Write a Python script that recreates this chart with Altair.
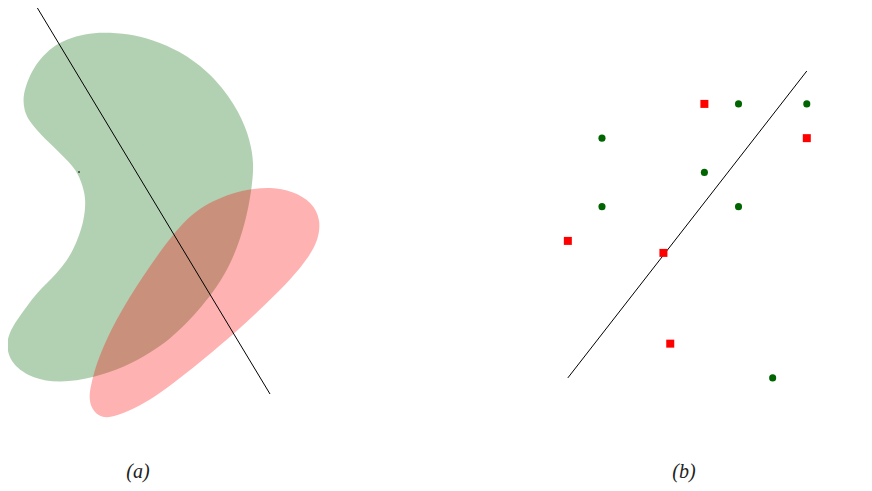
import altair as alt
import pandas as pd

# ---- left panel (a): outlines of the two regions, in page-pixel units ----
green_x = [103, 130, 150, 183, 217, 240, 250, 254, 252, 247, 240, 230, 217, 202, 187, 170, 150, 125, 93, 60, 33, 12, 6, 9, 17, 27, 37, 47, 57, 66, 73, 79, 84, 86, 83, 77, 60, 40, 29, 24, 23, 26, 32, 40, 52, 67, 85]
green_y = [32, 34, 39, 52, 79, 113, 140, 163, 187, 215, 240, 265, 287, 306, 323, 339, 353, 367, 378, 383, 379, 365, 347, 333, 320, 306, 293, 283, 273, 262, 250, 236, 220, 200, 187, 170, 153, 134, 121, 110, 97, 85, 71, 59, 47, 39, 34]

red_x = [252, 270, 293, 312, 321, 318, 308, 293, 265, 235, 205, 180, 160, 140, 117, 102, 91, 89, 91, 95, 101, 111, 123, 136, 150, 165, 180, 196, 213, 232]
red_y = [189, 187, 191, 202, 220, 241, 258, 277, 305, 333, 358, 378, 393, 406, 416, 419, 409, 396, 385, 369, 352, 330, 308, 287, 266, 245, 226, 211, 201, 193]

sep_a_x = [35, 270]
sep_a_y = [4, 394]

# ---- right panel (b): grid points ----
pt_x = [4, 5, 7, 1, 7, 4, 1, 5, 0, 2.8, 3.0, 6]
pt_y = [8, 8, 8, 7, 7, 6, 5, 5, 4, 3.65, 1, 0]
pt_cls = ["neg", "pos", "pos", "pos", "neg", "pos", "pos", "pos", "neg", "neg", "neg", "pos"]

sep_b_x = [0, 7]
sep_b_y = [0, 8.96]

labels = ["(a)", "(b)"]
label_x = [138, 684]
label_y = [472, 472]

W, H = 850, 475
xs_a = alt.Scale(domain=[8, 8 + W])
ys_a = alt.Scale(domain=[8 + H, 8])
xs_b = alt.Scale(domain=[-16.40, 8.50])
ys_b = alt.Scale(domain=[10.80 - H / 34.25, 10.80])

noax = None

green_df = pd.DataFrame({"x": green_x, "y": green_y, "i": range(len(green_x))})
red_df = pd.DataFrame({"x": red_x, "y": red_y, "i": range(len(red_x))})
sepa_df = pd.DataFrame({"x": sep_a_x, "y": sep_a_y, "i": [0, 1]})
lab_df = pd.DataFrame({"t": labels, "x": label_x, "y": label_y})
tick_df = pd.DataFrame({"x": [78], "x2": [80], "y": [172]})

def blob(df, color):
    return alt.Chart(df).mark_line(
        interpolate="basis-closed", filled=True, fill=color, fillOpacity=0.3,
        strokeWidth=0
    ).encode(
        x=alt.X("x:Q", scale=xs_a, axis=noax),
        y=alt.Y("y:Q", scale=ys_a, axis=noax),
        order=alt.Order("i:Q"),
    )

green = blob(green_df, "#006400")
red = blob(red_df, "#ff0000")

sep_a = alt.Chart(sepa_df).mark_line(color="black", strokeWidth=1).encode(
    x=alt.X("x:Q", scale=xs_a, axis=noax),
    y=alt.Y("y:Q", scale=ys_a, axis=noax),
    order=alt.Order("i:Q"),
)

tick = alt.Chart(tick_df).mark_rule(color="black", strokeWidth=1).encode(
    x=alt.X("x:Q", scale=xs_a, axis=noax), x2="x2:Q",
    y=alt.Y("y:Q", scale=ys_a, axis=noax),
)

text = alt.Chart(lab_df).mark_text(
    font="Liberation Serif", fontStyle="italic", fontSize=20, color="#222222", baseline="middle"
).encode(
    x=alt.X("x:Q", scale=xs_a, axis=noax),
    y=alt.Y("y:Q", scale=ys_a, axis=noax),
    text="t:N",
)

left = alt.layer(green, red, sep_a, tick, text)

pts_df = pd.DataFrame({"x": pt_x, "y": pt_y, "c": pt_cls})
sepb_df = pd.DataFrame({"x": sep_b_x, "y": sep_b_y, "i": [0, 1]})

sep_b = alt.Chart(sepb_df).mark_line(color="black", strokeWidth=1).encode(
    x=alt.X("x:Q", scale=xs_b, axis=noax),
    y=alt.Y("y:Q", scale=ys_b, axis=noax),
    order=alt.Order("i:Q"),
)

pos = alt.Chart(pts_df).transform_filter(alt.datum.c == "pos").mark_point(
    shape="circle", filled=True, size=50, color="#006400", opacity=1
).encode(
    x=alt.X("x:Q", scale=xs_b, axis=noax),
    y=alt.Y("y:Q", scale=ys_b, axis=noax),
)

neg = alt.Chart(pts_df).transform_filter(alt.datum.c == "neg").mark_point(
    shape="square", filled=True, size=64, color="#ff0000", opacity=1
).encode(
    x=alt.X("x:Q", scale=xs_b, axis=noax),
    y=alt.Y("y:Q", scale=ys_b, axis=noax),
)

right = alt.layer(sep_b, pos, neg)

chart = alt.layer(left, right).resolve_scale(x="independent", y="independent").properties(
    width=W, height=H, padding=0, autosize=alt.AutoSizeParams(type="none")
).configure_view(stroke=None)

chart.save("out.html", embed_options={"renderer": "svg", "actions": False})
